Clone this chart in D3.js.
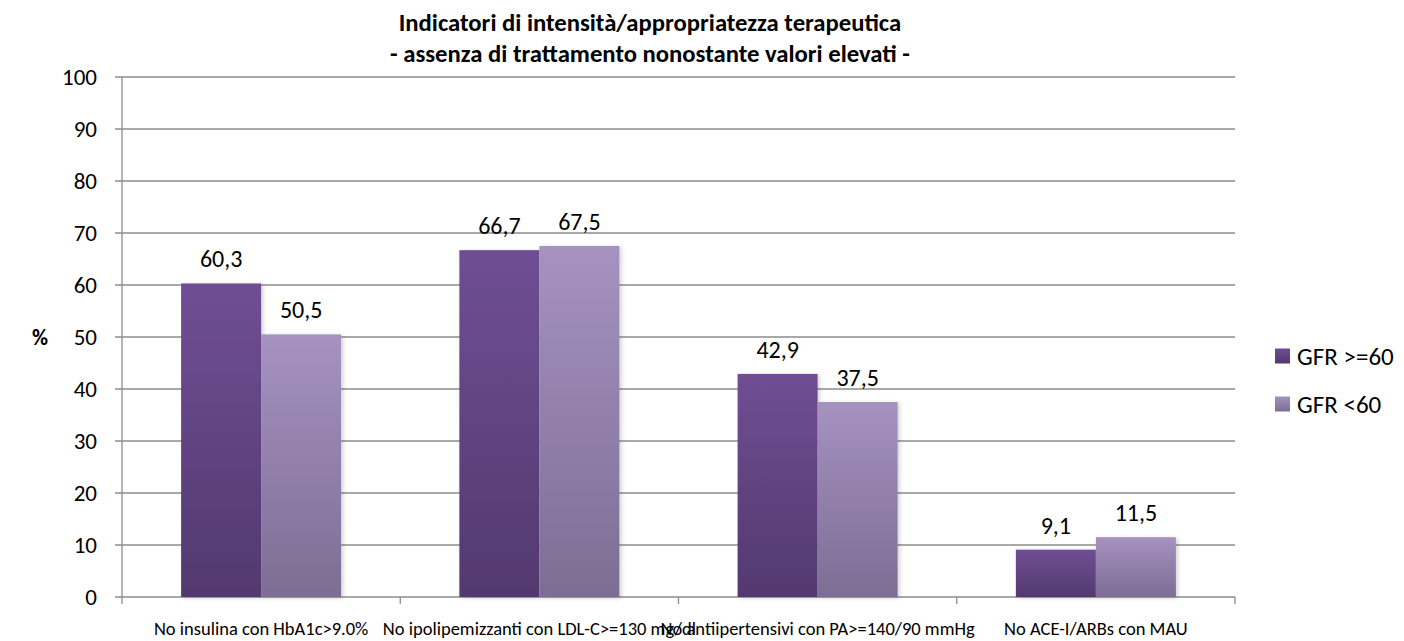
<!DOCTYPE html>
<html>
<head>
<meta charset="utf-8">
<script src="https://cdn.jsdelivr.net/npm/d3@7"></script>
<style>
  body { margin: 0; background: #fff; }
  svg { font-family: Carlito, Lato, "Open Sans", sans-serif; }
</style>
</head>
<body>
<svg id="chart"></svg>
<script>
const categories = [
  "No insulina con HbA1c>9.0%",
  "No ipolipemizzanti con LDL-C>=130 mg/dl",
  "No antiipertensivi con PA>=140/90 mmHg",
  "No ACE-I/ARBs con MAU"
];
const seriesNames = ["GFR >=60", "GFR <60"];
const gfrHigh = [60.3, 66.7, 42.9, 9.1];
const gfrLow = [50.5, 67.5, 37.5, 11.5];
const yTicks = [0, 10, 20, 30, 40, 50, 60, 70, 80, 90, 100];

const width = 1404, height = 641;
const plotLeft = 122, plotRight = 1235, plotTop = 77, plotBottom = 597;

const svg = d3.select("#chart").attr("width", width).attr("height", height);

// gradients for bars + legend
const defs = svg.append("defs");
const grads = [["g0", "#6f4e93", "#52396f"], ["g1", "#a592c0", "#7d6d94"]];
grads.forEach(([id, c1, c2]) => {
  const lg = defs.append("linearGradient").attr("id", id)
    .attr("x1", 0).attr("y1", 0).attr("x2", 0).attr("y2", 1);
  lg.append("stop").attr("offset", "0%").attr("stop-color", c1);
  lg.append("stop").attr("offset", "100%").attr("stop-color", c2);
});
const shadow = defs.append("filter").attr("id", "sh")
  .attr("x", "-10%").attr("y", "-10%").attr("width", "130%").attr("height", "130%");
shadow.append("feDropShadow").attr("dx", 2).attr("dy", 1).attr("stdDeviation", 2)
  .attr("flood-color", "#000").attr("flood-opacity", 0.18);

const x = d3.scaleBand().domain(categories).range([plotLeft, plotRight]).paddingInner(0).paddingOuter(0);
const x1 = d3.scaleBand().domain(seriesNames).range([0, x.bandwidth()]).paddingInner(0).paddingOuter(0.739);
const y = d3.scaleLinear().domain([0, 100]).range([plotBottom, plotTop]);

// gridlines
svg.append("g").selectAll("line").data(yTicks).enter().append("line")
  .attr("x1", plotLeft - 7).attr("x2", plotRight)
  .attr("y1", d => y(d)).attr("y2", d => y(d))
  .attr("stroke", "#8c8c8c").attr("stroke-width", 1.3);

// y labels
svg.append("g").selectAll("text").data(yTicks).enter().append("text")
  .attr("x", plotLeft - 25).attr("y", d => y(d)).attr("dy", "0.35em")
  .attr("text-anchor", "end").attr("font-size", 23).attr("fill", "#000")
  .text(d => d);

// axis lines
svg.append("line").attr("x1", plotLeft).attr("x2", plotLeft).attr("y1", plotTop).attr("y2", plotBottom)
  .attr("stroke", "#8c8c8c").attr("stroke-width", 1.3);
const xTicks = [plotLeft].concat(categories.map(c => x(c) + x.bandwidth()));
svg.append("g").selectAll("line").data(xTicks).enter().append("line")
  .attr("x1", d => d).attr("x2", d => d).attr("y1", plotBottom).attr("y2", plotBottom + 7)
  .attr("stroke", "#8c8c8c").attr("stroke-width", 1.3);

// bars
const rows = categories.map((c, i) => ({ cat: c, vals: [gfrHigh[i], gfrLow[i]] }));
const grp = svg.append("g").selectAll("g").data(rows).enter().append("g")
  .attr("transform", d => `translate(${x(d.cat)},0)`);
grp.selectAll("rect").data(d => d.vals.map((v, j) => ({ s: seriesNames[j], v, j })))
  .enter().append("rect")
  .attr("x", d => x1(d.s)).attr("width", x1.bandwidth())
  .attr("y", d => y(d.v)).attr("height", d => y(0) - y(d.v))
  .attr("fill", d => `url(#g${d.j})`).attr("filter", "url(#sh)");
grp.selectAll("text").data(d => d.vals.map((v, j) => ({ s: seriesNames[j], v, j })))
  .enter().append("text")
  .attr("x", d => x1(d.s) + x1.bandwidth() / 2).attr("y", d => y(d.v) - 16)
  .attr("text-anchor", "middle").attr("font-size", 24).attr("fill", "#000")
  .text(d => d3.format(".1f")(d.v).replace(".", ","));

// category labels
svg.append("g").selectAll("text").data(categories).enter().append("text")
  .attr("x", d => x(d) + x.bandwidth() / 2).attr("y", 635)
  .attr("text-anchor", "middle").attr("font-size", 18.5).attr("fill", "#000")
  .text(d => d);

// y title
svg.append("text").attr("x", 40).attr("y", y(50)).attr("dy", "0.35em")
  .attr("text-anchor", "middle").attr("font-size", 22).attr("font-weight", "bold").text("%");

// title
const title = ["Indicatori di intensità/appropriatezza terapeutica", "- assenza di trattamento nonostante valori elevati -"];
svg.append("g").selectAll("text").data(title).enter().append("text")
  .attr("x", 650).attr("y", (d, i) => 31 + i * 31)
  .attr("text-anchor", "middle").attr("font-size", 24.7).attr("font-weight", "bold")
  .text(d => d);

// legend
const leg = svg.append("g").selectAll("g").data(seriesNames).enter().append("g")
  .attr("transform", (d, i) => `translate(1275,${356 + i * 48})`);
leg.append("rect").attr("x", 0).attr("y", -7.5).attr("width", 15).attr("height", 15)
  .attr("fill", (d, i) => `url(#g${i})`);
leg.append("text").attr("x", 22).attr("dy", "0.35em").attr("font-size", 25).text(d => d);
</script>
</body>
</html>
